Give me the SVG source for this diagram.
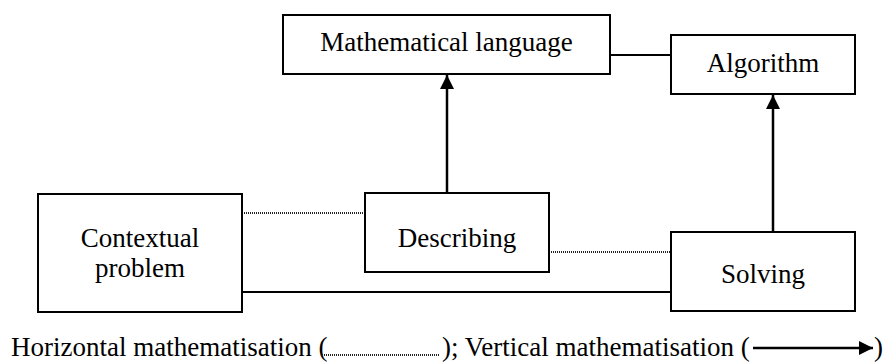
<svg xmlns="http://www.w3.org/2000/svg" width="883" height="363" viewBox="0 0 883 363">
<style>
.box{fill:#fff;stroke:#000;stroke-width:2}
text{font-family:'Liberation Serif',Tinos,'Times New Roman',Times,'DejaVu Serif',serif;font-size:27px;fill:#000}
.c{text-anchor:middle}
.solid{stroke:#000;stroke-width:2;fill:none}
.dot{stroke:#222;stroke-width:2;stroke-dasharray:1 1;fill:none}
.arr{stroke:#000;stroke-width:2.5;fill:none;marker-end:url(#ah)}
</style>
<defs>
<marker id="ah" viewBox="0 0 14 14" refX="14" refY="7" markerWidth="14" markerHeight="14" markerUnits="userSpaceOnUse" orient="auto">
<path d="M0,0 L14,7 L0,14 z" fill="#000"/>
</marker>
</defs>
<g id="connectors">
<line class="solid" x1="610" y1="55" x2="671" y2="55"/>
<line class="dot" x1="242" y1="213" x2="365" y2="213"/>
<line class="dot" x1="549" y1="252" x2="671" y2="252"/>
<line class="solid" x1="242" y1="292" x2="671" y2="292"/>
<line class="arr" x1="447" y1="193" x2="447" y2="75"/>
<line class="arr" x1="773" y1="232" x2="773" y2="95"/>
</g>
<g id="mathematical-language">
<rect class="box" x="283" y="15" width="327" height="59"/>
<text class="c" x="446.5" y="51" font-family="Liberation Serif, serif">Mathematical language</text>
</g>
<g id="algorithm">
<rect class="box" x="671" y="35" width="184" height="59"/>
<text class="c" x="763" y="72" font-family="Liberation Serif, serif">Algorithm</text>
</g>
<g id="contextual-problem">
<rect class="box" x="38" y="194" width="204" height="118"/>
<text class="c" x="140" y="247" font-family="Liberation Serif, serif">Contextual</text>
<text class="c" x="140" y="277" font-family="Liberation Serif, serif">problem</text>
</g>
<g id="describing">
<rect class="box" x="365" y="193" width="184" height="79"/>
<text class="c" x="457" y="247" font-family="Liberation Serif, serif">Describing</text>
</g>
<g id="solving">
<rect class="box" x="671" y="232" width="184" height="79"/>
<text class="c" x="763" y="283" font-family="Liberation Serif, serif">Solving</text>
</g>
<g id="legend">
<text x="11" y="356" font-family="Liberation Serif, serif">Horizontal mathematisation (</text>
<line class="dot" x1="322" y1="355" x2="440" y2="355"/>
<text x="442" y="356" font-family="Liberation Serif, serif">); Vertical mathematisation (</text>
<line class="arr" x1="753" y1="348" x2="873" y2="348"/>
<text x="874" y="356" font-family="Liberation Serif, serif">)</text>
</g>
</svg>
